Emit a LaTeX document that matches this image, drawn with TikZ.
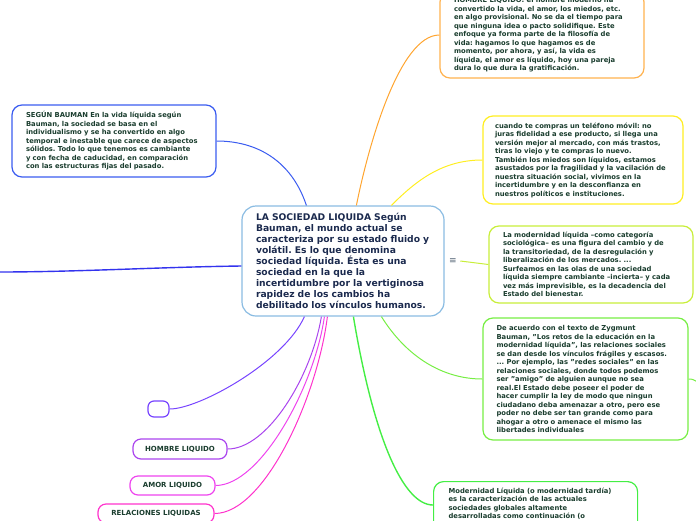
\documentclass[tikz,border=0pt]{standalone}
\usepackage{fontspec}
\setmainfont{DejaVu Sans}
\usetikzlibrary{positioning}
\definecolor{navytxt}{HTML}{1B2A4E}
\definecolor{txtgreen}{HTML}{1A3D2E}
\definecolor{centralblue}{HTML}{8ABCE2}
\definecolor{baumanblue}{HTML}{3A5CF0}
\definecolor{leftblue}{HTML}{3333EE}
\definecolor{hombreorange}{HTML}{FFA530}
\definecolor{movilyellow}{HTML}{FFEE22}
\definecolor{limegreen}{HTML}{C8EE3A}
\definecolor{retosgreen}{HTML}{77EE44}
\definecolor{tardiagreen}{HTML}{44EE44}
\definecolor{violet}{HTML}{7744FF}
\definecolor{purple}{HTML}{AA44EE}
\definecolor{amormag}{HTML}{EE44EE}
\definecolor{relmag}{HTML}{FF33CC}
\definecolor{icongray}{HTML}{556677}
\frenchspacing

\begin{document}
\begin{tikzpicture}[x=1pt,y=-1pt,
    idea/.style={draw, rounded corners=10pt, line width=1.2pt, inner sep=0pt,
      align=left, text=txtgreen, font=\fontsize{6.8}{8.5}\selectfont\bfseries},
    tagbox/.style={idea, align=center, rounded corners=8pt, font=\fontsize{7}{8}\selectfont\bfseries},
    link/.style={line width=1pt}]
    \useasboundingbox (0,0) rectangle (696,520);
    % nodo central
    \node[idea, draw=centralblue, text=navytxt, rounded corners=14pt,
      minimum width=202pt, minimum height=110pt, text width=174pt,
      font=\fontsize{9.2}{11}\selectfont\bfseries] (central) at (343,261)
      {LA SOCIEDAD LIQUIDA Según\\Bauman, el mundo actual se\\caracteriza por su estado fluido y\\volátil. Es lo que denomina\\sociedad líquida. Ésta es una\\sociedad en la que la\\incertidumbre por la vertiginosa\\rapidez de los cambios ha\\debilitado los vínculos humanos.};
    % ideas
    \node[idea, draw=baumanblue, minimum width=204pt, minimum height=72pt, text width=176pt] (bauman) at (114,141)
      {SEGÚN BAUMAN En la vida líquida según\\Bauman, la sociedad se basa en el\\individualismo y se ha convertido en algo\\temporal e inestable que carece de aspectos\\sólidos. Todo lo que tenemos es cambiante\\y con fecha de caducidad, en comparación\\con las estructuras fijas del pasado.};
    \node[idea, draw=hombreorange!85, minimum width=204pt, minimum height=86pt, text width=176pt] (hombre) at (542,35)
      {HOMBRE LIQUIDO: el hombre moderno ha\\convertido la vida, el amor, los miedos, etc.\\en algo provisional. No se da el tiempo para\\que ninguna idea o pacto solidifique. Este\\enfoque ya forma parte de la filosofía de\\vida: hagamos lo que hagamos es de\\momento, por ahora, y así, la vida es\\líquida, el amor es líquido, hoy una pareja\\dura lo que dura la gratificación.};
    \node[idea, draw=movilyellow, minimum width=200pt, minimum height=88pt, text width=176pt] (movil) at (583,160)
      {cuando te compras un teléfono móvil: no\\juras fidelidad a ese producto, si llega una\\versión mejor al mercado, con más trastos,\\tiras lo viejo y te compras lo nuevo.\\También los miedos son líquidos, estamos\\asustados por la fragilidad y la vacilación de\\nuestra situación social, vivimos en la\\incertidumbre y en la desconfianza en\\nuestros políticos e instituciones.};
    \node[idea, draw=limegreen, minimum width=204pt, minimum height=77pt, text width=176pt] (categoria) at (591,264.5)
      {La modernidad líquida –como categoría\\sociológica– es una figura del cambio y de\\la transitoriedad, de la desregulación y\\liberalización de los mercados. ...\\Surfeamos en las olas de una sociedad\\líquida siempre cambiante –incierta– y cada\\vez más imprevisible, es la decadencia del\\Estado del bienestar.};
    \node[idea, draw=retosgreen, minimum width=205pt, minimum height=122pt, text width=178pt] (retos) at (585.5,379)
      {De acuerdo con el texto de Zygmunt\\Bauman, "Los retos de la educación en la\\modernidad líquida", las relaciones sociales\\se dan desde los vínculos frágiles y escasos.\\... Por ejemplo, las "redes sociales" en las\\relaciones sociales, donde todos podemos\\ser "amigo" de alguien aunque no sea\\real.El Estado debe poseer el poder de\\hacer cumplir la ley de modo que ningun\\ciudadano deba amenazar a otro, pero ese\\poder no debe ser tan grande como para\\ahogar a otro o amenace el mismo las\\libertades individuales};
    \node[idea, draw=tardiagreen, anchor=north west, inner xsep=15pt, inner ysep=6pt, text width=174pt] (tardia) at (433,481)
      {Modernidad Líquida (o modernidad tardía)\\es la caracterización de las actuales\\sociedades globales altamente\\desarrolladas como continuación (o\rule[-16pt]{0pt}{1pt}};
    \node[text=icongray, font=\fontsize{9}{9}\selectfont] (icon) at (453,261) {≡};
    % ramas de la izquierda
    \node[tagbox, draw=violet, minimum width=21pt, minimum height=16pt, rounded corners=6pt] (vacio) at (158.5,409) {};
    \node[tagbox, draw=purple, minimum width=94pt, minimum height=20pt] (hombreliq) at (180,449) {HOMBRE LIQUIDO};
    \node[tagbox, draw=amormag, minimum width=85pt, minimum height=19pt] (amorliq) at (172.5,485.5) {AMOR LIQUIDO};
    \node[tagbox, draw=relmag, minimum width=116pt, minimum height=19pt] (relliq) at (156,513.5) {RELACIONES LIQUIDAS};
    \coordinate (leftend) at (-2,272);
    \coordinate (stubend) at (698,382);
    % conectores
    \draw[link, draw=baumanblue] ([xshift=65pt]central.north west) .. controls +(-15,-45) and +(40,0) .. (bauman.east);
    \draw[link, draw=hombreorange] ([xshift=115pt]central.north west) .. controls +(12,-60) and +(-40,0) .. (hombre.west);
    \draw[link, draw=movilyellow] ([xshift=150pt]central.north west) .. controls +(25,-25) and +(-40,0) .. (movil.west);
    \draw[link, draw=limegreen] (icon.east) -- (categoria.west);
    \draw[link, draw=retosgreen] ([xshift=140pt]central.south west) .. controls +(25,40) and +(-40,0) .. (retos.west);
    \draw[link, draw=retosgreen] (retos.east) .. controls +(5,0) and +(-5,-2) .. (stubend);
    \draw[link, draw=tardiagreen, line width=1.4pt] ([xshift=112pt]central.south west) .. controls +(20,120) and +(-30,0) .. ([yshift=-24pt]tardia.north west);
    \draw[link, draw=leftblue, line width=1.4pt] ([yshift=-5pt]central.west) .. controls +(-80,1) and +(80,0) .. (leftend);
    \draw[link, draw=violet] ([xshift=63pt]central.south west) .. controls +(-20,45) and +(30,0) .. (vacio.east);
    \draw[link, draw=purple] ([xshift=80pt]central.south west) .. controls +(-10,60) and +(40,0) .. (hombreliq.east);
    \draw[link, draw=amormag] ([xshift=83pt]central.south west) .. controls +(-10,70) and +(45,0) .. (amorliq.east);
    \draw[link, draw=relmag] ([xshift=86pt]central.south west) .. controls +(-10,80) and +(50,0) .. (relliq.east);
\end{tikzpicture}
\end{document}
